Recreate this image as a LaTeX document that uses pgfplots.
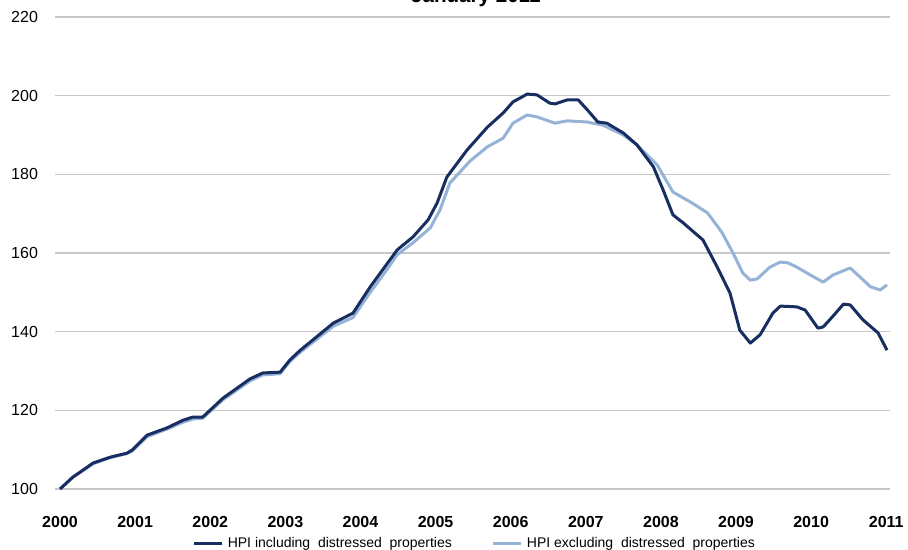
\documentclass[border=0pt]{standalone}
\usepackage{fontspec}
\setmainfont{Liberation Sans}
\usepackage{pgfplots}
\pgfplotsset{compat=1.18}
\definecolor{darkhpi}{RGB}{24,45,96}
\definecolor{lighthpi}{RGB}{149,179,215}
\definecolor{gridgray}{RGB}{200,200,200}
\begin{document}
\begin{tikzpicture}[x=1pt,y=1pt]
\begin{axis}[
  at={(27.5pt,30.5pt)}, anchor=south west,
  scale only axis, width=417.5pt, height=236pt,
  xmin=1999.933, xmax=2011.05, ymin=100, ymax=220,
  axis line style={draw=none},
  ytick={100,120,...,220},
  xtick={2000,2001,...,2011},
  ymajorgrids, grid style={gridgray, line width=0.75pt},
  major tick length=0pt,
  xticklabel style={font=\fontsize{8}{9}\selectfont\bfseries, yshift=-10pt},
  yticklabel style={font=\fontsize{8}{9}\selectfont, xshift=-5pt},
  /pgf/number format/assume math mode=true,
  xticklabel={\pgfmathprintnumber[1000 sep={}]{\tick}},
  clip=false,
  reverse legend,
  legend columns=2,
  legend style={at={(axis description cs:0.504,-0.1165)}, anchor=center, draw=none,
    font=\fontsize{7}{8}\selectfont, /tikz/every even column/.append style={column sep=18pt}},
  legend image code/.code={\draw[#1, line width=1.5pt] (0pt,0pt) -- (14pt,0pt);},
]
\addplot[lighthpi, line width=1.5pt, line join=round] coordinates {
(2000.00,100) (2000.17,103) (2000.44,106.4) (2000.67,108) (2000.89,109) (2000.96,109.6)
(2001.16,113.3) (2001.42,115.2) (2001.64,117) (2001.77,117.8) (2001.90,118)
(2002.17,122.7) (2002.53,127.5) (2002.70,129) (2002.93,129.3) (2003.06,132.4)
(2003.20,134.8) (2003.64,141.4) (2003.90,143.6) (2004.13,150) (2004.39,156.8)
(2004.49,159.6) (2004.70,162.6) (2004.93,166.4) (2005.06,171) (2005.19,177.8)
(2005.46,183.4) (2005.69,187) (2005.90,189.2) (2006.03,193) (2006.22,195.1)
(2006.35,194.6) (2006.59,193) (2006.75,193.6) (2007.02,193.3) (2007.23,192.5)
(2007.50,190) (2007.68,187.5) (2007.95,182.4) (2008.16,175.5) (2008.39,173)
(2008.62,170.2) (2008.81,165.3) (2008.96,160) (2009.09,154.9) (2009.19,153.1)
(2009.28,153.4) (2009.45,156.4) (2009.59,157.7) (2009.69,157.5) (2009.81,156.4)
(2009.99,154.4) (2010.16,152.6) (2010.29,154.4) (2010.52,156.2) (2010.65,153.9)
(2010.79,151.4) (2010.92,150.6) (2011.01,151.9)
};
\addplot[darkhpi, line width=1.5pt, line join=round] coordinates {
(2000.00,100) (2000.17,103) (2000.44,106.6) (2000.67,108.1) (2000.89,109.1) (2000.96,109.9)
(2001.16,113.7) (2001.42,115.5) (2001.64,117.5) (2001.77,118.3) (2001.90,118.3)
(2002.17,123.1) (2002.53,128) (2002.70,129.5) (2002.93,129.7) (2003.06,132.8)
(2003.20,135.3) (2003.64,142.2) (2003.90,144.7) (2004.13,151.4) (2004.39,158.2)
(2004.49,160.8) (2004.70,164.1) (2004.90,168.4) (2005.02,172.7) (2005.15,179.3)
(2005.42,186.2) (2005.69,192) (2005.90,195.6) (2006.03,198.4) (2006.22,200.4)
(2006.35,200.2) (2006.52,198.1) (2006.59,197.9) (2006.75,198.9) (2006.90,198.9)
(2007.02,196.4) (2007.16,193.3) (2007.28,193) (2007.50,190.5) (2007.68,187.5)
(2007.90,181.9) (2008.03,176) (2008.16,169.7) (2008.30,167.6) (2008.56,163.3)
(2008.75,156.4) (2008.92,149.8) (2009.05,140.4) (2009.19,137.1) (2009.32,139.2)
(2009.49,144.7) (2009.59,146.5) (2009.81,146.3) (2009.92,145.5) (2010.09,140.9)
(2010.16,141.2) (2010.28,143.7) (2010.43,147) (2010.52,146.8) (2010.69,143)
(2010.89,139.7) (2011.01,135.3)
};
\legend{HPI excluding\ \ distressed\ \ properties, HPI including\ \ distressed\ \ properties}
\node[anchor=base, font=\fontsize{10.3}{12}\selectfont\bfseries] at (axis description cs:0.504,1.0297) {January 2011};
\end{axis}
\pgfresetboundingbox
\useasboundingbox (0pt,0pt) rectangle (454pt,275pt);
\end{tikzpicture}
\end{document}
